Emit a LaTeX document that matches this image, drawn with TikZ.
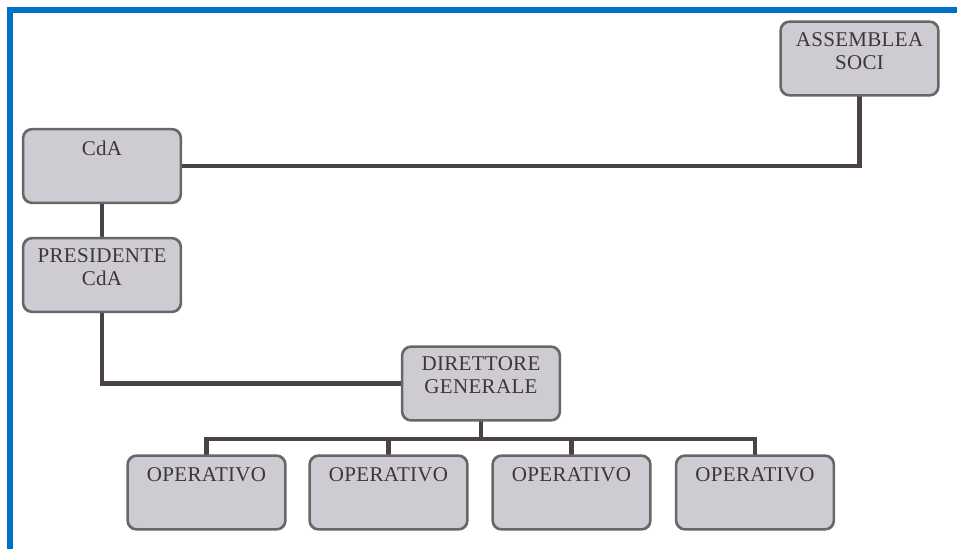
\documentclass[tikz,border=0pt]{standalone}
\usepackage{fontspec}
\setmainfont[LetterSpace=1.5]{Liberation Serif}
\definecolor{frameblue}{RGB}{0,114,198}
\definecolor{boxfill}{RGB}{206,204,210}
\definecolor{boxedge}{RGB}{105,102,106}
\definecolor{wire}{RGB}{74,66,70}
\definecolor{ink}{RGB}{58,54,58}
\begin{document}
\begin{tikzpicture}[x=1pt,y=-1pt,
  orgbox/.style={draw=boxedge, line width=1.6pt, fill=boxfill, rounded corners=9pt,
    minimum width=157pt, minimum height=73pt, inner sep=0pt},
  caption/.style={anchor=base, align=center, text=ink, inner sep=0pt,
    font=\fontsize{21}{23}\selectfont},
  link/.style={draw=wire, line width=4.5pt}]
  \useasboundingbox (0,0) rectangle (957,549);
  \fill[white] (0,0) rectangle (957,549);
  % blue frame along the top and left edges
  \fill[frameblue] (7,7) rectangle (957,13);
  \fill[frameblue] (7,7) rectangle (13,549);

  % boxes
  \node[orgbox] (asm)  at (859.5,58.5) {};
  \node[orgbox] (cda)  at (102,166)    {};
  \node[orgbox] (pres) at (102,275)    {};
  \node[orgbox] (dir)  at (481,383.5)  {};
  \node[orgbox] (op1)  at (206.5,492.5) {};
  \node[orgbox] (op2)  at (388.5,492.5) {};
  \node[orgbox] (op3)  at (571.5,492.5) {};
  \node[orgbox] (op4)  at (755,492.5)  {};

  % connectors
  \coordinate (bus) at (0,439);
  \draw[link] (cda.east) -| (asm.south);
  \draw[link] (cda.south) -- (pres.north);
  \draw[link] (pres.south) |- (dir.west);
  \draw[link] (dir.south) -- (dir.south |- bus);
  \draw[link, line cap=rect] (op1.north |- bus) -- (op4.north |- bus);
  \foreach \o in {op1,op2,op3,op4}
    \draw[link] (\o.north |- bus) -- (\o.north);

  % redraw box outlines over the connector ends
  \foreach \b in {asm,cda,pres,dir,op1,op2,op3,op4}
    \draw[draw=boxedge, line width=1.6pt, rounded corners=9pt]
      (\b.north west) rectangle (\b.south east);

  % texts (a two-line caption sits on the baseline of its last line)
  \node[caption] (asmT)  at ([yshift=-48pt]asm.north)  {ASSEMBLEA\\SOCI};
  \node[caption] (cdaT)  at ([yshift=-27pt]cda.north)  {CdA};
  \node[caption] (presT) at ([yshift=-48pt]pres.north) {PRESIDENTE\\CdA};
  \node[caption] (dirT)  at ([yshift=-47pt]dir.north)  {DIRETTORE\\GENERALE};
  \foreach \o in {op1,op2,op3,op4}
    \node[caption] (\o T) at ([yshift=-26pt]\o.north) {OPERATIVO};
\end{tikzpicture}
\end{document}
